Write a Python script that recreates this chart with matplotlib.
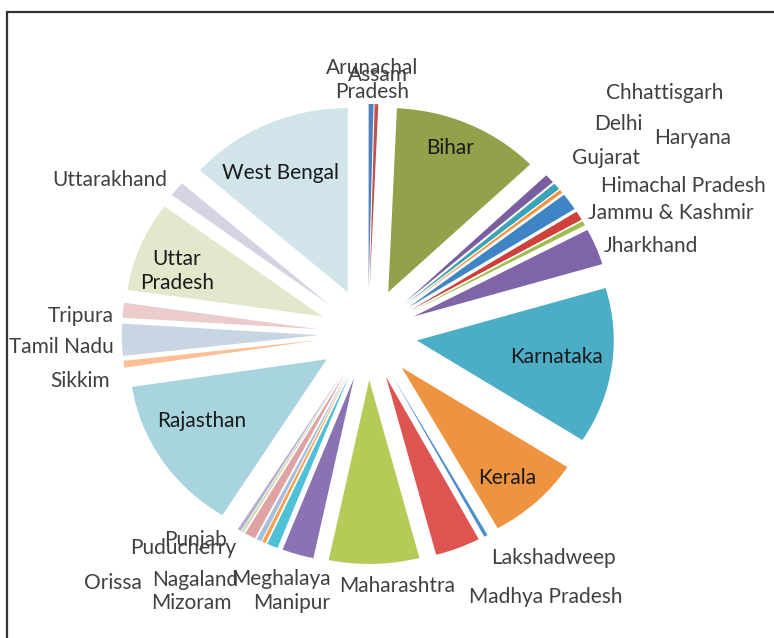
import matplotlib
matplotlib.use("Agg")
import matplotlib.pyplot as plt
from matplotlib.patches import Rectangle

states = ["Arunachal Pradesh", "Assam", "Bihar", "Chhattisgarh", "Delhi", "Gujarat",
          "Haryana", "Himachal Pradesh", "Jammu & Kashmir", "Jharkhand", "Karnataka",
          "Kerala", "Lakshadweep", "Madhya Pradesh", "Maharashtra", "Manipur",
          "Meghalaya", "Mizoram", "Nagaland", "Orissa", "Puducherry", "Punjab",
          "Rajasthan", "Sikkim", "Tamil Nadu", "Tripura", "Uttar Pradesh",
          "Uttarakhand", "West Bengal"]
shares = [0.4, 0.3, 12.1, 0.8, 0.6, 0.3,
          1.5, 0.8, 0.4, 3.2, 13.7,
          7.8, 0.3, 3.7, 7.4, 2.6,
          0.9, 0.3, 0.4, 0.9, 0.2, 0.3,
          13.7, 0.6, 2.8, 1.3, 7.9,
          1.3, 13.5]

colors = ["#4F81BD", "#C0504D", "#92A24A", "#7A5FA0", "#3BA3B8", "#F39340",
          "#3F85C6", "#D0403B", "#9CBE4F", "#8064A8", "#4BAEC6",
          "#EE9440", "#4F8FCB", "#DE5450", "#B5CB58", "#8B72B2",
          "#4EC1D7", "#F9A04E", "#A6BEE0", "#E0A3A3", "#CCDDB0", "#B8AED0",
          "#A8D4DE", "#FBC095", "#C8D6E4", "#EBCBCC", "#E3E8CC",
          "#D5D2E2", "#D1E4EA"]

# label layout (pixel positions in the 774x638 canvas, label text)
label_pos = {
    "Arunachal Pradesh": (372, 80, "Arunachal\nPradesh"),
    "Assam": (378, 75, "Assam"),
    "Chhattisgarh": (665, 93, "Chhattisgarh"),
    "Delhi": (618, 124, "Delhi"),
    "Haryana": (693, 138, "Haryana"),
    "Gujarat": (606, 158, "Gujarat"),
    "Himachal Pradesh": (683, 186, "Himachal Pradesh"),
    "Jammu & Kashmir": (671, 213, "Jammu & Kashmir"),
    "Jharkhand": (651, 246, "Jharkhand"),
    "Lakshadweep": (553, 558, "Lakshadweep"),
    "Madhya Pradesh": (546, 597, "Madhya Pradesh"),
    "Maharashtra": (397, 586, "Maharashtra"),
    "Manipur": (292, 603, "Manipur"),
    "Meghalaya": (281, 579, "Meghalaya"),
    "Mizoram": (191, 603, "Mizoram"),
    "Nagaland": (195, 580, "Nagaland"),
    "Orissa": (113, 583, "Orissa"),
    "Puducherry": (183, 548, "Puducherry"),
    "Punjab": (195, 540, "Punjab"),
    "Sikkim": (80, 381, "Sikkim"),
    "Tamil Nadu": (61, 347, "Tamil Nadu"),
    "Tripura": (81, 316, "Tripura"),
    "Uttarakhand": (110, 180, "Uttarakhand"),
    "West Bengal": (281, 173, "West Bengal"),
    "Bihar": (450, 148, "Bihar"),
    "Karnataka": (556, 357, "Karnataka"),
    "Kerala": (507, 478, "Kerala"),
    "Rajasthan": (202, 421, "Rajasthan"),
    "Uttar Pradesh": (177, 271, "Uttar\nPradesh"),
}
inside = {"West Bengal", "Bihar", "Karnataka", "Kerala", "Rajasthan", "Uttar Pradesh"}

W, H = 774, 638
fig = plt.figure(figsize=(W / 100, H / 100), dpi=100)
fig.patch.set_facecolor("white")
ax = fig.add_axes([0, 0, 1, 1])

ax.pie(shares, colors=colors, startangle=90, counterclock=False,
       explode=[0.25] * len(shares), radius=1.0,
       wedgeprops=dict(linewidth=0))

cx, cy = 368, 334
rx, ry = 197, 184
ax.set_aspect("auto")
ax.set_xlim(-cx / rx, (W - cx) / rx)
ax.set_ylim(-(H - cy) / ry, cy / ry)
ax.axis("off")

# chart frame
fig.patches.append(Rectangle((6.5 / W, -0.1), 2.0, 1 - 12 / H + 0.1,
                             transform=fig.transFigure, fill=False,
                             edgecolor="#333333", linewidth=1.6))

for name in states:
    x, y, txt = label_pos[name]
    col = "#1a1a1a" if name in inside else "#404040"
    fig.text(x / W, 1 - y / H, txt, ha="center", va="center",
             fontsize=15, family="Lato", color=col, linespacing=1.25)

fig.savefig("out.png", dpi=100, facecolor="white")
